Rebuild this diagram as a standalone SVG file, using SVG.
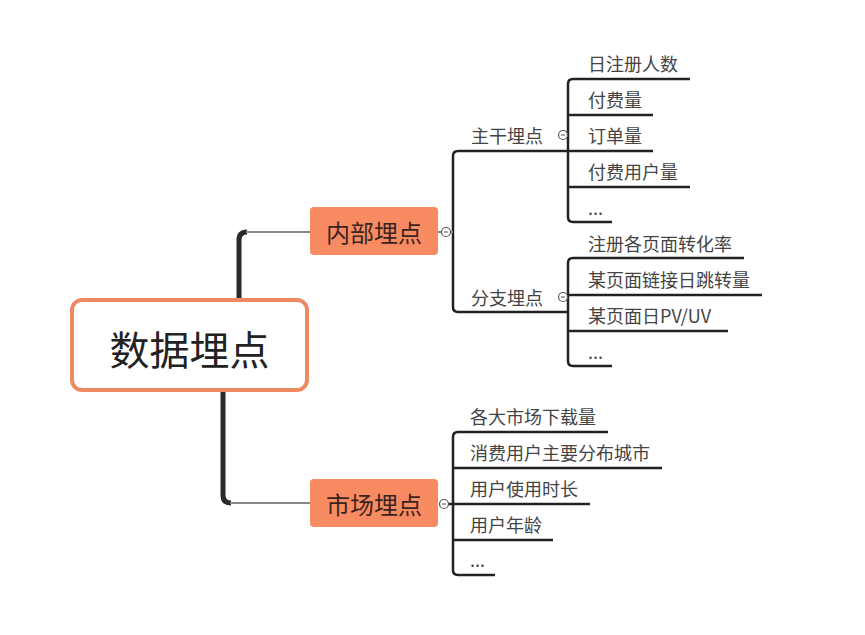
<svg xmlns="http://www.w3.org/2000/svg" width="865" height="635" viewBox="0 0 865 635">
<style>
text{font-family:"Noto Sans CJK SC","Noto Sans",sans-serif;dominant-baseline:central}
.leaf{font-size:18px;fill:#444}
.sub{font-size:24px;fill:#3a2420;text-anchor:middle}
.ln{fill:none;stroke:#222;stroke-width:2.5;stroke-linejoin:round}
.trunk{fill:none;stroke:#2a2a2a;stroke-width:5}
.thin{fill:none;stroke:#888;stroke-width:2}
.knob{fill:#fff;stroke:#555;stroke-width:1.2}
</style>
<rect width="865" height="635" fill="#fff"/>
<g id="connectors">
<path class="trunk" d="M239 299 V240 Q239 232 247 232"/>
<path class="thin" d="M246 232 H310"/>
<path class="trunk" d="M223 391 V495 Q223 503 231 503"/>
<path class="thin" d="M230 503 H310"/>
<path class="ln" d="M568 151 H458 Q453 151 453 156 V307 Q453 312 458 312 H568"/>
<path class="ln" d="M690 79 H573 Q568 79 568 84 V217 Q568 222 573 222 H612 M568 115 H653 M568 151 H653 M568 187 H690"/>
<path class="ln" d="M744 258 H573 Q568 258 568 263 V361 Q568 366 573 366 H612 M568 295 H762 M568 331 H728"/>
<path class="ln" d="M608 432 H458 Q453 432 453 437 V570 Q453 575 458 575 H495 M453 468 H662 M448 504 H590 M453 540 H553"/>
<path class="thin" d="M438 232 H442 M450 232 H453"/>
<circle class="knob" cx="446" cy="232" r="4.5"/><path d="M444 232 H448" stroke="#555"/>
<circle class="knob" cx="563" cy="135" r="4.5"/><path d="M561 135 H565" stroke="#555"/>
<circle class="knob" cx="563" cy="297" r="4.5"/><path d="M561 297 H565" stroke="#555"/>
<circle class="knob" cx="444" cy="504" r="4.5"/><path d="M442 504 H446" stroke="#555"/>
</g>
<g id="root">
<rect x="72" y="300" width="235" height="90" rx="10" fill="#fff" stroke="#EE8A62" stroke-width="4"/>
<text x="189.5" y="348" font-size="40" fill="#222" text-anchor="middle">数据埋点</text>
</g>
<g id="n-inner">
<rect x="310" y="207" width="128" height="48" rx="4" fill="#F98B62"/>
<text class="sub" x="374" y="231">内部埋点</text>
</g>
<g id="n-market">
<rect x="310" y="479" width="128" height="48" rx="4" fill="#F98B62"/>
<text class="sub" x="374" y="503">市场埋点</text>
</g>
<g id="n-main"><text class="leaf" x="471" y="135">主干埋点</text></g>
<g id="n-branch"><text class="leaf" x="471" y="297">分支埋点</text></g>
<g id="l1"><text class="leaf" x="588" y="63">日注册人数</text></g>
<g id="l2"><text class="leaf" x="588" y="99">付费量</text></g>
<g id="l3"><text class="leaf" x="588" y="135">订单量</text></g>
<g id="l4"><text class="leaf" x="588" y="171">付费用户量</text></g>
<g id="l5"><text class="leaf" x="588" y="207">...</text></g>
<g id="b1"><text class="leaf" x="588" y="243">注册各页面转化率</text></g>
<g id="b2"><text class="leaf" x="588" y="279">某页面链接日跳转量</text></g>
<g id="b3"><text class="leaf" x="588" y="315">某页面日PV/UV</text></g>
<g id="b4"><text class="leaf" x="588" y="351">...</text></g>
<g id="m1"><text class="leaf" x="470" y="416">各大市场下载量</text></g>
<g id="m2"><text class="leaf" x="470" y="452">消费用户主要分布城市</text></g>
<g id="m3"><text class="leaf" x="470" y="488">用户使用时长</text></g>
<g id="m4"><text class="leaf" x="470" y="524">用户年龄</text></g>
<g id="m5"><text class="leaf" x="470" y="559">...</text></g>
</svg>
